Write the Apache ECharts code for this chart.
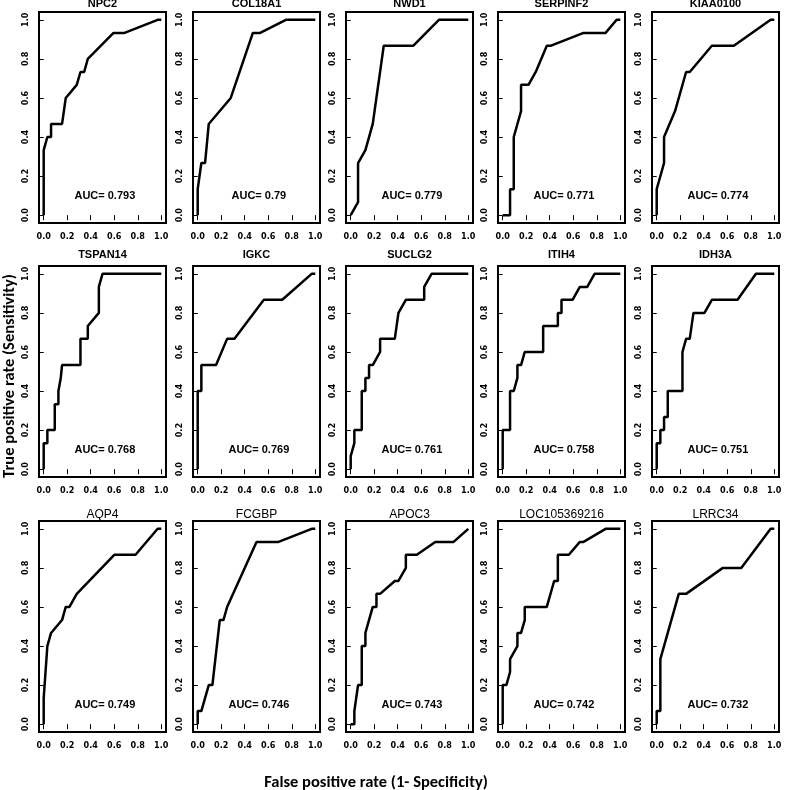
<!DOCTYPE html>
<html>
<head>
<meta charset="utf-8">
<script src="https://cdn.jsdelivr.net/npm/echarts@6/dist/echarts.min.js"></script>
<style>html,body{margin:0;padding:0;background:#fff;}#c{width:787px;height:790px;}</style>
</head>
<body>
<div id="c"></div>
<script>
const panelNames = ['NPC2','COL18A1','NWD1','SERPINF2','KIAA0100','TSPAN14','IGKC','SUCLG2','ITIH4','IDH3A','AQP4','FCGBP','APOC3','LOC105369216','LRRC34'];
const aucValues = ['0.793','0.79','0.779','0.771','0.774','0.768','0.769','0.761','0.758','0.751','0.749','0.746','0.743','0.742','0.732'];
const tickValues = [0, 0.2, 0.4, 0.6, 0.8, 1.0];
const xTitle = 'False positive rate (1- Specificity)';
const yTitle = 'True positive rate (Sensitivity)';

const fpr_NPC2 = [0,0,0.031,0.0625,0.0625,0.156,0.1875,0.281,0.3125,0.344,0.375,0.594,0.6875,0.969,1];
const tpr_NPC2 = [0,0.333,0.4,0.4,0.467,0.467,0.6,0.667,0.733,0.733,0.8,0.933,0.933,1,1];
const fpr_COL18A1 = [0,0,0.031,0.0625,0.094,0.281,0.469,0.531,0.75,1];
const tpr_COL18A1 = [0,0.133,0.267,0.267,0.467,0.6,0.933,0.933,1,1];
const fpr_NWD1 = [0,0.0625,0.0625,0.125,0.1875,0.281,0.531,0.75,1];
const tpr_NWD1 = [0,0.067,0.267,0.333,0.467,0.867,0.867,1,1];
const fpr_SERPINF2 = [0,0.0625,0.0625,0.094,0.094,0.156,0.156,0.219,0.281,0.375,0.406,0.6875,0.875,0.969,1];
const tpr_SERPINF2 = [0,0,0.133,0.133,0.4,0.533,0.667,0.667,0.733,0.867,0.867,0.933,0.933,1,1];
const fpr_KIAA0100 = [0,0,0.0625,0.0625,0.156,0.25,0.281,0.469,0.656,0.969,1];
const tpr_KIAA0100 = [0,0.133,0.267,0.4,0.533,0.733,0.733,0.867,0.867,1,1];
const fpr_TSPAN14 = [0,0,0.031,0.031,0.094,0.094,0.125,0.125,0.145,0.156,0.3125,0.3125,0.375,0.375,0.469,0.469,0.5,1];
const tpr_TSPAN14 = [0,0.133,0.133,0.2,0.2,0.333,0.333,0.4,0.467,0.533,0.533,0.667,0.667,0.733,0.8,0.933,1,1];
const fpr_IGKC = [0,0,0.031,0.031,0.156,0.25,0.3125,0.5625,0.719,0.969,1];
const tpr_IGKC = [0,0.4,0.4,0.533,0.533,0.667,0.667,0.867,0.867,1,1];
const fpr_SUCLG2 = [0,0,0.031,0.031,0.094,0.094,0.125,0.125,0.156,0.156,0.1875,0.25,0.25,0.375,0.406,0.469,0.625,0.625,0.6875,1];
const tpr_SUCLG2 = [0,0.067,0.133,0.2,0.2,0.4,0.4,0.467,0.467,0.533,0.533,0.6,0.667,0.667,0.8,0.867,0.867,0.933,1,1];
const fpr_ITIH4 = [0,0,0.0625,0.0625,0.094,0.125,0.125,0.156,0.1875,0.344,0.344,0.469,0.469,0.5,0.5,0.594,0.656,0.719,0.781,1];
const tpr_ITIH4 = [0,0.2,0.2,0.4,0.4,0.467,0.533,0.533,0.6,0.6,0.733,0.733,0.8,0.8,0.867,0.867,0.933,0.933,1,1];
const fpr_IDH3A = [0,0,0.031,0.031,0.0625,0.0625,0.094,0.094,0.219,0.219,0.25,0.281,0.3125,0.406,0.469,0.6875,0.844,1];
const tpr_IDH3A = [0,0.133,0.133,0.2,0.2,0.267,0.267,0.4,0.4,0.6,0.667,0.667,0.8,0.8,0.867,0.867,1,1];
const fpr_AQP4 = [0,0,0.031,0.0625,0.156,0.1875,0.219,0.281,0.6,0.781,0.969,1];
const tpr_AQP4 = [0,0.133,0.4,0.467,0.533,0.6,0.6,0.667,0.867,0.867,1,1];
const fpr_FCGBP = [0,0,0.031,0.094,0.125,0.1875,0.219,0.25,0.5,0.6875,0.969,1];
const tpr_FCGBP = [0,0.067,0.067,0.2,0.2,0.533,0.533,0.6,0.933,0.933,1,1];
const fpr_APOC3 = [0,0.031,0.031,0.0625,0.094,0.094,0.125,0.125,0.1875,0.219,0.219,0.25,0.375,0.406,0.469,0.469,0.5625,0.719,0.875,1];
const tpr_APOC3 = [0,0,0.067,0.2,0.2,0.4,0.4,0.467,0.6,0.6,0.667,0.667,0.733,0.733,0.8,0.867,0.867,0.933,0.933,1];
const fpr_LOC105369216 = [0,0,0.031,0.0625,0.0625,0.125,0.125,0.156,0.1875,0.1875,0.375,0.4375,0.469,0.469,0.5625,0.656,0.6875,0.875,1];
const tpr_LOC105369216 = [0,0.2,0.2,0.267,0.333,0.4,0.467,0.467,0.533,0.6,0.6,0.733,0.733,0.867,0.867,0.933,0.933,1,1];
const fpr_LRRC34 = [0,0,0.031,0.031,0.1875,0.25,0.5625,0.719,0.969,1];
const tpr_LRRC34 = [0,0.067,0.067,0.333,0.667,0.667,0.8,0.8,1,1];

const curves = [
  [fpr_NPC2, tpr_NPC2], [fpr_COL18A1, tpr_COL18A1], [fpr_NWD1, tpr_NWD1], [fpr_SERPINF2, tpr_SERPINF2], [fpr_KIAA0100, tpr_KIAA0100],
  [fpr_TSPAN14, tpr_TSPAN14], [fpr_IGKC, tpr_IGKC], [fpr_SUCLG2, tpr_SUCLG2], [fpr_ITIH4, tpr_ITIH4], [fpr_IDH3A, tpr_IDH3A],
  [fpr_AQP4, tpr_AQP4], [fpr_FCGBP, tpr_FCGBP], [fpr_APOC3, tpr_APOC3], [fpr_LOC105369216, tpr_LOC105369216], [fpr_LRRC34, tpr_LRRC34]
];

// layout (pixels)
const colLeft = [39, 193, 346, 498, 652];
const rowTop = [12, 266, 521];
const boxW = 127, boxH = 211;
const titleY = [4, 255, 515];
const titleWeight = ['bold', 'bold', 'normal'];
const titleSize = [11, 11, 12];
const tickFont = '"Liberation Sans Narrow","DejaVu Sans Condensed","Liberation Sans",Arial,sans-serif';
const mainFont = '"Liberation Sans",Arial,sans-serif';
const axisTitleFont = 'bold 16.5px Carlito, Lato, "Open Sans", sans-serif';

const grids = [], xAxes = [], yAxes = [], series = [], graphics = [];
panelNames.forEach((name, i) => {
  const r = Math.floor(i / 5), c = i % 5;
  grids.push({left: colLeft[c], top: rowTop[r], width: boxW, height: boxH, show: true,
    borderColor: '#000', borderWidth: 2, backgroundColor: 'transparent', containLabel: false});
  const labelBase = {fontSize: 9, fontWeight: 'bold', color: '#000', fontFamily: tickFont,
    customValues: tickValues, formatter: v => Number(v).toFixed(1)};
  xAxes.push({gridIndex: i, type: 'value', min: -0.04, max: 1.04,
    axisLine: {show: false}, splitLine: {show: false},
    axisTick: {show: true, customValues: tickValues, length: 5, lineStyle: {color: '#000', width: 1}},
    axisLabel: Object.assign({}, labelBase, {margin: 9})});
  yAxes.push({gridIndex: i, type: 'value', min: -0.04, max: 1.04,
    axisLine: {show: false}, splitLine: {show: false},
    axisTick: {show: true, customValues: tickValues, length: 5, lineStyle: {color: '#000', width: 1}},
    axisLabel: Object.assign({}, labelBase, {margin: 9, rotate: 90})});
  const fpr = curves[i][0], tpr = curves[i][1];
  series.push({type: 'line', xAxisIndex: i, yAxisIndex: i, symbol: 'none', animation: false,
    lineStyle: {color: '#000', width: 2.5}, data: fpr.map((x, k) => [x, tpr[k]]),
    markPoint: {symbol: 'circle', symbolSize: 0, animation: false,
      data: [{coord: [0.52, 0.1], value: 0}],
      label: {show: true, position: 'inside', formatter: 'AUC= ' + aucValues[i],
        fontSize: 11, fontWeight: 'bold', color: '#000', fontFamily: mainFont}}});
  graphics.push({type: 'text', x: colLeft[c] + boxW / 2, y: titleY[r],
    style: {text: name, fill: '#000', font: titleWeight[r] + ' ' + titleSize[r] + 'px ' + mainFont,
      textAlign: 'center', textVerticalAlign: 'middle'}});
});

graphics.push({type: 'text', x: 376, y: 783,
  style: {text: xTitle, fill: '#000', font: axisTitleFont, textAlign: 'center', textVerticalAlign: 'middle'}});
graphics.push({type: 'text', x: 10, y: 376, rotation: Math.PI / 2,
  style: {text: yTitle, fill: '#000', font: axisTitleFont, textAlign: 'center', textVerticalAlign: 'middle'}});

const chart = echarts.init(document.getElementById('c'), null, {renderer: 'canvas'});
chart.setOption({
  animation: false,
  backgroundColor: '#fff',
  grid: grids, xAxis: xAxes, yAxis: yAxes, series: series, graphic: graphics
});
</script>
</body>
</html>
